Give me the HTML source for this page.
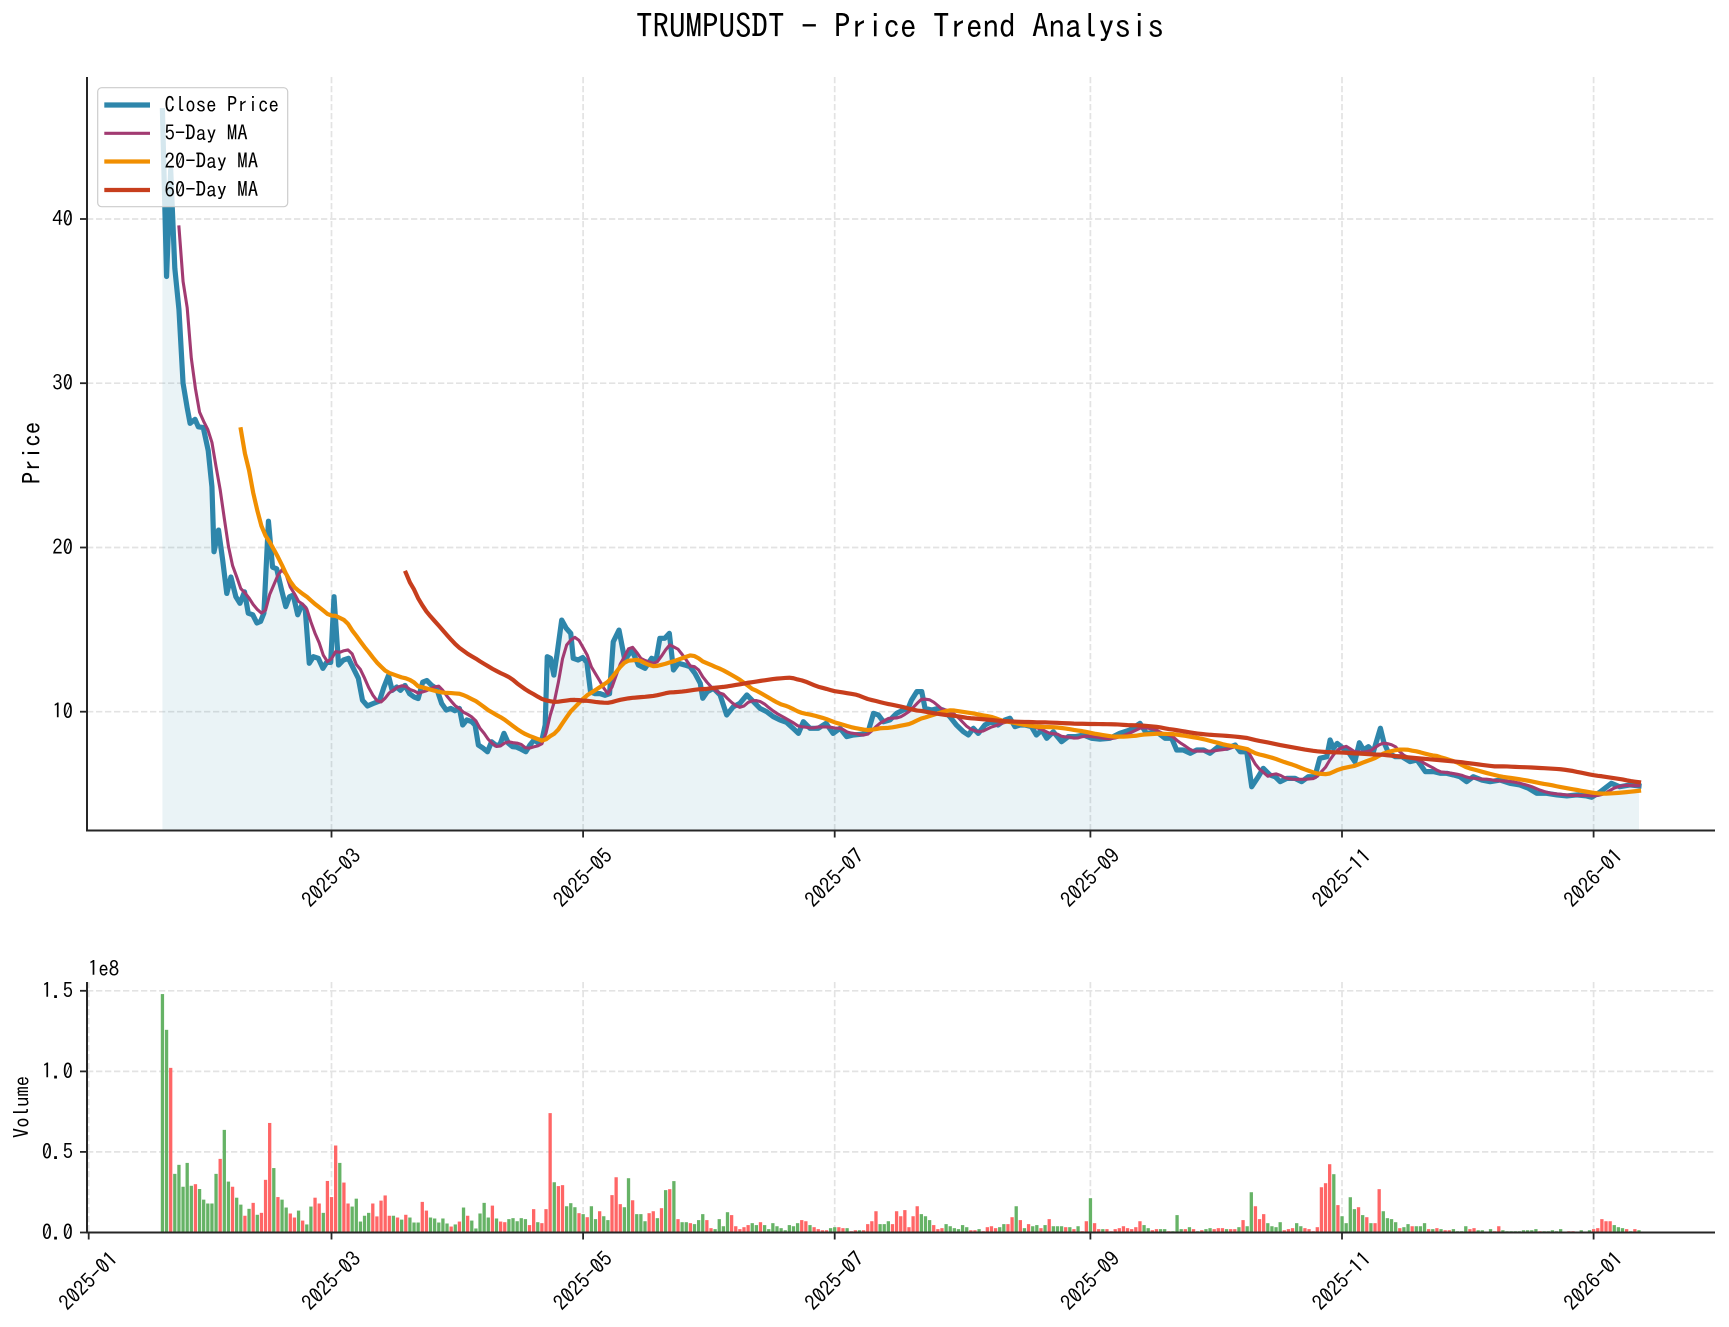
<!DOCTYPE html>
<html><head><meta charset="utf-8">
<style>
html,body{margin:0;padding:0;background:#fff;}
svg{display:block;font-family:"IPAGothic","Liberation Sans","Noto Sans CJK JP",sans-serif;}
</style></head>
<body>
<svg id="c" width="1729" height="1327" viewBox="0 0 1729 1327" xmlns="http://www.w3.org/2000/svg">
<rect width="1729" height="1327" fill="#fff"/>
<defs>
<clipPath id="cp1"><rect x="87" y="77" width="1628" height="753.5"/></clipPath>
<clipPath id="cp2"><rect x="87" y="975" width="1628" height="257.5"/></clipPath>
</defs>

<!-- title -->
<text x="900" y="38" font-size="33" text-anchor="middle" fill="#000">TRUMPUSDT - Price Trend Analysis</text>

<!-- grids -->
<g stroke="#e3e3e3" stroke-width="1.7" stroke-dasharray="6.3 2.7" fill="none">
  <line x1="331.5" y1="77" x2="331.5" y2="830.5"/>
  <line x1="583.1" y1="77" x2="583.1" y2="830.5"/>
  <line x1="834.7" y1="77" x2="834.7" y2="830.5"/>
  <line x1="1090.4" y1="77" x2="1090.4" y2="830.5"/>
  <line x1="1342" y1="77" x2="1342" y2="830.5"/>
  <line x1="1593.6" y1="77" x2="1593.6" y2="830.5"/>
  <line x1="87" y1="711.7" x2="1715" y2="711.7"/>
  <line x1="87" y1="547.5" x2="1715" y2="547.5"/>
  <line x1="87" y1="383.2" x2="1715" y2="383.2"/>
  <line x1="87" y1="219" x2="1715" y2="219"/>

  <line x1="88.7" y1="982" x2="88.7" y2="1232.5"/>
  <line x1="331.5" y1="982" x2="331.5" y2="1232.5"/>
  <line x1="583.1" y1="982" x2="583.1" y2="1232.5"/>
  <line x1="834.7" y1="982" x2="834.7" y2="1232.5"/>
  <line x1="1090.4" y1="982" x2="1090.4" y2="1232.5"/>
  <line x1="1342" y1="982" x2="1342" y2="1232.5"/>
  <line x1="1593.6" y1="982" x2="1593.6" y2="1232.5"/>
  <line x1="87" y1="1151.9" x2="1715" y2="1151.9"/>
  <line x1="87" y1="1071.4" x2="1715" y2="1071.4"/>
  <line x1="87" y1="990.8" x2="1715" y2="990.8"/>
</g>

<g id="series" clip-path="url(#cp1)"></g>
<g id="bars" clip-path="url(#cp2)"></g>

<!-- legend -->
<g>
  <rect x="97.7" y="87.7" width="190" height="119" rx="4" ry="4" fill="#fff" fill-opacity="0.8" stroke="#cccccc" stroke-width="1.2"/>
  <line x1="104.3" y1="105" x2="150" y2="105" stroke="#2E86AB" stroke-width="5.2"/>
  <line x1="104.3" y1="133.3" x2="150" y2="133.3" stroke="#A23B72" stroke-width="3.1"/>
  <line x1="104.3" y1="161.5" x2="150" y2="161.5" stroke="#F18F01" stroke-width="4.2"/>
  <line x1="104.3" y1="190" x2="150" y2="190" stroke="#C73E1D" stroke-width="4.2"/>
  <g font-size="20.8" fill="#000" dominant-baseline="central">
    <text x="164.5" y="105">Close Price</text>
    <text x="164.5" y="133.3">5-Day MA</text>
    <text x="164.5" y="161.5">20-Day MA</text>
    <text x="164.5" y="190">60-Day MA</text>
  </g>
</g>

<!-- spines -->
<g stroke="#262626" stroke-width="2" fill="none">
  <line x1="87" y1="77" x2="87" y2="831.5"/>
  <line x1="86" y1="830.5" x2="1715" y2="830.5"/>
  <line x1="87" y1="982" x2="87" y2="1233.5"/>
  <line x1="86" y1="1232.5" x2="1715" y2="1232.5"/>
</g>
<!-- ticks -->
<g stroke="#262626" stroke-width="1.8">
  <line x1="80" y1="711.7" x2="87" y2="711.7"/>
  <line x1="80" y1="547.5" x2="87" y2="547.5"/>
  <line x1="80" y1="383.2" x2="87" y2="383.2"/>
  <line x1="80" y1="219" x2="87" y2="219"/>
  <line x1="331.5" y1="830.5" x2="331.5" y2="837.5"/>
  <line x1="583.1" y1="830.5" x2="583.1" y2="837.5"/>
  <line x1="834.7" y1="830.5" x2="834.7" y2="837.5"/>
  <line x1="1090.4" y1="830.5" x2="1090.4" y2="837.5"/>
  <line x1="1342" y1="830.5" x2="1342" y2="837.5"/>
  <line x1="1593.6" y1="830.5" x2="1593.6" y2="837.5"/>

  <line x1="80" y1="1232.5" x2="87" y2="1232.5"/>
  <line x1="80" y1="1151.9" x2="87" y2="1151.9"/>
  <line x1="80" y1="1071.4" x2="87" y2="1071.4"/>
  <line x1="80" y1="990.8" x2="87" y2="990.8"/>
  <line x1="88.7" y1="1232.5" x2="88.7" y2="1239.5"/>
  <line x1="331.5" y1="1232.5" x2="331.5" y2="1239.5"/>
  <line x1="583.1" y1="1232.5" x2="583.1" y2="1239.5"/>
  <line x1="834.7" y1="1232.5" x2="834.7" y2="1239.5"/>
  <line x1="1090.4" y1="1232.5" x2="1090.4" y2="1239.5"/>
  <line x1="1342" y1="1232.5" x2="1342" y2="1239.5"/>
  <line x1="1593.6" y1="1232.5" x2="1593.6" y2="1239.5"/>
</g>

<!-- tick labels -->
<g font-size="20.8" fill="#000">
  <g text-anchor="end" dominant-baseline="central">
    <text x="73" y="711.7">10</text>
    <text x="73" y="547.5">20</text>
    <text x="73" y="383.2">30</text>
    <text x="73" y="219">40</text>
    <text x="73" y="1232.5">0.0</text>
    <text x="73" y="1151.9">0.5</text>
    <text x="73" y="1071.4">1.0</text>
    <text x="73" y="990.8">1.5</text>
  </g>
  <g text-anchor="middle" dominant-baseline="central">
    <text transform="translate(331.5,878) rotate(-45)">2025-03</text>
    <text transform="translate(583.1,878) rotate(-45)">2025-05</text>
    <text transform="translate(834.7,878) rotate(-45)">2025-07</text>
    <text transform="translate(1090.4,878) rotate(-45)">2025-09</text>
    <text transform="translate(1342,878) rotate(-45)">2025-11</text>
    <text transform="translate(1593.6,878) rotate(-45)">2026-01</text>

    <text transform="translate(88.7,1281) rotate(-45)">2025-01</text>
    <text transform="translate(331.5,1281) rotate(-45)">2025-03</text>
    <text transform="translate(583.1,1281) rotate(-45)">2025-05</text>
    <text transform="translate(834.7,1281) rotate(-45)">2025-07</text>
    <text transform="translate(1090.4,1281) rotate(-45)">2025-09</text>
    <text transform="translate(1342,1281) rotate(-45)">2025-11</text>
    <text transform="translate(1593.6,1281) rotate(-45)">2026-01</text>
  </g>
  <text x="88" y="976">1e8</text>
</g>

<!-- axis labels -->
<text transform="translate(32,453) rotate(-90)" font-size="25" text-anchor="middle" dominant-baseline="central" fill="#000">Price</text>
<text transform="translate(22,1107) rotate(-90)" font-size="20.8" text-anchor="middle" dominant-baseline="central" fill="#000">Volume</text>
</svg>

<script>
(function(){
var NS="http://www.w3.org/2000/svg";
var K=[[0,46.6],[1,36.5],[2,43.0],[3,37.0],[4,34.5],[5,30.0],[6,28.5],[6.7,27.56],[7.9,27.8],[8.7,27.35],[9.9,27.3],[11.1,25.9],[12,23.7],[12.5,19.74],[13.6,21.06],[14.6,19.24],[15.6,17.2],[16.6,18.2],[17.8,17.0],[18.8,16.6],[19.9,17.3],[20.8,16.0],[21.9,15.9],[22.9,15.4],[23.8,15.5],[24.6,16.0],[25.7,21.6],[26.7,18.8],[27.7,18.7],[28.9,17.4],[29.9,16.4],[30.8,17.0],[31.7,17.1],[32.8,15.9],[33.8,16.5],[34.6,16.3],[35.6,12.95],[36.6,13.35],[37.8,13.25],[38.9,12.64],[39.8,13.0],[40.8,13.0],[41.6,17.0],[42.7,12.84],[43.9,13.15],[45.1,13.25],[46.3,12.64],[47.5,12.03],[48.5,10.7],[49.7,10.35],[51.1,10.5],[52.6,10.65],[53.7,11.5],[54.8,12.2],[55.7,11.3],[56.8,11.5],[57.7,11.3],[58.8,11.6],[59.9,11.1],[61,10.9],[62,10.8],[63.1,11.8],[64.1,11.9],[65.3,11.6],[66.5,11.4],[67.7,10.5],[68.8,10.1],[69.9,10.2],[70.9,10.06],[72,10.2],[72.8,9.19],[73.8,9.5],[75,9.39],[75.8,9.19],[76.6,7.97],[77.8,7.77],[78.8,7.56],[79.8,8.17],[80.8,7.97],[81.8,7.97],[82.8,8.68],[83.9,8.07],[84.9,7.87],[85.8,7.85],[87,7.71],[88.1,7.56],[89.1,7.97],[90.1,8.28],[91.1,8.11],[92.1,8.38],[92.8,9.19],[93.3,13.35],[94.1,13.25],[94.9,12.23],[95.7,13.55],[96.8,15.58],[97.9,15.08],[99,14.77],[99.6,13.25],[100.8,13.15],[101.9,13.3],[102.9,13.0],[103.8,11.2],[104.9,11.1],[106.1,11.1],[107.3,11.0],[108.4,11.1],[109.3,14.26],[110.7,14.97],[112.1,13.15],[113.8,13.76],[115.4,12.84],[117,12.64],[118.6,13.25],[119.7,13.15],[120.6,14.47],[121.8,14.47],[122.9,14.77],[123.9,12.54],[125.1,12.95],[126.7,12.84],[127.9,12.74],[129.1,12.34],[130.4,11.73],[131,10.82],[132.1,11.22],[133.6,11.42],[135.2,11.02],[136.8,9.8],[138.4,10.3],[140,10.51],[141.7,11.02],[143.3,10.61],[144.9,10.2],[146.5,10.0],[148.1,9.7],[149.7,9.5],[151.3,9.35],[152.9,8.99],[154.2,8.68],[155.4,9.39],[157,8.99],[159,8.99],[160.9,9.29],[162.6,8.68],[164.3,8.99],[165.9,8.48],[167.5,8.58],[169.9,8.64],[171.1,8.78],[172.4,9.9],[173.6,9.8],[174.8,9.39],[176.4,9.5],[178,9.9],[179.6,10.1],[180.8,10.2],[181.6,10.7],[182.9,11.22],[184.1,11.22],[184.9,10.2],[186.5,10.1],[188.1,10.2],[189.3,10.1],[190.9,9.7],[192.5,9.19],[194.2,8.78],[195.4,8.58],[196.6,8.99],[197.8,8.68],[199.4,9.19],[201,9.39],[202.6,9.19],[204.3,9.5],[205.5,9.6],[206.7,9.09],[207.9,9.19],[209.1,9.19],[210.7,9.09],[211.9,8.58],[213.2,8.89],[214.4,8.38],[216,8.78],[218,8.17],[219.6,8.48],[221.3,8.48],[223.3,8.58],[225.3,8.38],[227.3,8.33],[229.7,8.38],[232.1,8.68],[234.6,8.89],[237,9.29],[238.6,8.68],[241,8.78],[243.1,8.38],[244.7,8.38],[245.9,7.67],[247.5,7.67],[249.2,7.47],[250.8,7.67],[252.4,7.67],[254,7.47],[256,7.87],[258.1,7.77],[260.1,7.97],[261.3,7.56],[262.9,7.56],[264.1,5.43],[265.7,6.04],[266.9,6.55],[268.5,6.15],[269.8,6.04],[271,5.74],[272.6,5.94],[274.6,5.94],[276.2,5.74],[277.8,6.04],[279.4,6.04],[280.6,7.16],[282.3,7.26],[283.1,8.28],[283.9,7.77],[284.8,8.07],[286.3,7.77],[287.5,7.56],[289.1,6.96],[290.2,8.11],[291.2,7.67],[292.4,7.87],[293.6,7.56],[295.3,8.99],[296.1,8.17],[297.3,7.47],[298.9,7.26],[300.5,7.26],[302.5,6.96],[304.2,7.06],[306.2,6.35],[308.2,6.35],[309.8,6.25],[311.4,6.25],[313,6.15],[314.6,6.04],[316.2,5.74],[317.8,6.04],[319.9,5.84],[321.9,5.74],[324.3,5.84],[326.7,5.64],[329.1,5.54],[331.2,5.34],[333.2,5.03],[335.6,5.03],[338.1,4.93],[340.5,4.87],[342.9,4.93],[345.3,4.87],[346.5,4.79],[348.5,5.1],[351.3,5.64],[353.3,5.43],[355.8,5.54],[358,5.48]];
var V=[1.48,1.258,1.022,0.364,0.42,0.284,0.432,0.29,0.30,0.27,
0.204,0.18,0.18,0.364,0.457,0.637,0.316,0.284,0.216,0.173,
0.104,0.147,0.184,0.11,0.122,0.327,0.68,0.40,0.22,0.204,
0.155,0.118,0.093,0.136,0.074,0.05,0.161,0.216,0.18,0.122,
0.32,0.22,0.54,0.432,0.31,0.18,0.161,0.21,0.068,0.104,
0.122,0.18,0.10,0.198,0.23,0.104,0.104,0.093,0.08,0.11,
0.093,0.062,0.062,0.19,0.136,0.093,0.087,0.062,0.087,0.056,
0.037,0.05,0.068,0.155,0.104,0.074,0.025,0.118,0.184,0.093,
0.167,0.087,0.068,0.064,0.083,0.089,0.07,0.089,0.083,0.046,
0.145,0.064,0.058,0.145,0.741,0.312,0.288,0.294,0.163,0.182,
0.157,0.12,0.114,0.095,0.163,0.083,0.132,0.101,0.077,0.232,
0.343,0.176,0.157,0.337,0.2,0.114,0.114,0.07,0.12,0.132,
0.089,0.151,0.263,0.269,0.319,0.083,0.064,0.064,0.058,0.052,
0.077,0.114,0.077,0.027,0.021,0.083,0.039,0.126,0.108,0.039,
0.021,0.033,0.046,0.058,0.046,0.064,0.046,0.021,0.058,0.039,
0.027,0.014,0.046,0.039,0.058,0.077,0.07,0.046,0.033,0.021,
0.014,0.014,0.027,0.033,0.033,0.027,0.027,0.008,0.014,0.014,
0.014,0.052,0.07,0.132,0.052,0.052,0.07,0.052,0.132,0.101,
0.139,0.033,0.101,0.163,0.114,0.101,0.077,0.046,0.021,0.027,
0.052,0.039,0.027,0.021,0.046,0.033,0.014,0.014,0.021,0.008,
0.033,0.039,0.027,0.033,0.052,0.052,0.095,0.163,0.077,0.027,
0.052,0.039,0.046,0.027,0.046,0.083,0.039,0.039,0.039,0.033,
0.033,0.021,0.039,0.008,0.07,0.213,0.058,0.021,0.021,0.021,
0.008,0.021,0.027,0.039,0.027,0.021,0.033,0.07,0.046,0.027,
0.014,0.021,0.021,0.021,0.008,0.008,0.108,0.021,0.021,0.033,
0.021,0.008,0.014,0.021,0.027,0.021,0.027,0.027,0.021,0.021,
0.021,0.033,0.077,0.039,0.25,0.163,0.083,0.114,0.058,0.039,
0.033,0.064,0.014,0.021,0.027,0.058,0.039,0.027,0.021,0.008,
0.033,0.281,0.306,0.424,0.362,0.17,0.101,0.058,0.219,0.145,
0.157,0.108,0.095,0.058,0.058,0.269,0.132,0.089,0.083,0.064,
0.027,0.033,0.052,0.039,0.039,0.039,0.058,0.021,0.021,0.027,
0.021,0.014,0.014,0.021,0.008,0.008,0.039,0.021,0.027,0.014,
0.014,0.004,0.021,0.008,0.039,0.014,0.008,0.008,0.008,0.008,
0.014,0.014,0.014,0.021,0.008,0.008,0.008,0.014,0.008,0.021,
0.003,0.008,0.008,0.003,0.014,0.004,0.014,0.021,0.027,0.083,
0.07,0.07,0.046,0.033,0.027,0.021,0.008,0.021,0.014];
var C="GGRGGGGGRG"+"GGGGRGGRGG"+"RGRGRRRGRG"+"GRRGRGGRRG"+"RRRGRRGGGG"+"GRRRRRGRGR"+"GGGRRGGGGG"+"RGRGRGGGGG"+"RGRRGGGGGR"+"RGRRRGRRGG"+"GRGRGGRGGR"+"RRGGRGGGRR"+"GRGRGRGGRG"+"GGRRGGGGRR"+"RRRGGRGGGG"+"GGGGGRRGRR"+"RRGGRRGRRG"+"RRRRGGGRRR"+"RRRRGGGRRR"+"GGGGGGRRGR"+"RRRGGRRGRG"+"RGGRGRGGGR"+"GRGRRGRRGR"+"RRRRRRRRGG"+"RRGGRGGGRG"+"RGRGGRRRGR"+"RGRGGRRRGG"+"GGRRRGGRRR"+"RRRRGRGGGG"+"RGRGRRGGGG"+"RGGRGGGRGR"+"GRRGGGGRRG"+"GGGRRGGGGG"+"GGGGRGGGGG"+"GRRGGGGRRR"+"RRGGGRGRG";
var N=359;
function X(i){return 162.44+4.1245*i;}
function Y(v){return 711.7-(v-10)*16.423;}
function interp(t){
  for(var j=0;j<K.length-1;j++){
    if(t<=K[j+1][0]){var a=K[j],b=K[j+1];var f=(t-a[0])/(b[0]-a[0]);f=Math.max(0,Math.min(1,f));return a[1]+(b[1]-a[1])*f;}
  }
  return K[K.length-1][1];
}
var D=[];for(var i=0;i<N;i++)D.push(interp(i));
function el(tag,attrs,parent){var e=document.createElementNS(NS,tag);for(var k in attrs)e.setAttribute(k,attrs[k]);parent.appendChild(e);return e;}
var g=document.getElementById('series');
var pts=K.map(function(p){return X(p[0]).toFixed(2)+","+Y(p[1]).toFixed(2);});
var closeD="M"+pts.join(" L");
el('path',{d:closeD+" L"+X(358).toFixed(2)+",845 L"+X(0).toFixed(2)+",845 Z",fill:"#2E86AB","fill-opacity":"0.1",stroke:"none"},g);
el('path',{d:closeD,fill:"none",stroke:"#2E86AB","stroke-width":"5.2","stroke-linejoin":"round","stroke-linecap":"square"},g);
function ma(w,color,sw){
  var p=[];
  for(var i=w-1;i<N;i++){var s=0;for(var j=i-w+1;j<=i;j++)s+=D[j];p.push(X(i).toFixed(2)+","+Y(s/w).toFixed(2));}
  el('path',{d:"M"+p.join(" L"),fill:"none",stroke:color,"stroke-width":sw,"stroke-linejoin":"round","stroke-linecap":"square"},g);
}
ma(5,"#A23B72","3.1");
ma(20,"#F18F01","4.2");
ma(60,"#C73E1D","4.2");
var gb=document.getElementById('bars');
for(var i=0;i<N;i++){
  var h=V[i]*161.1;
  el('rect',{x:(X(i)-1.65).toFixed(2),y:(1232.5-h).toFixed(2),width:"3.3",height:h.toFixed(2),fill:(C.charAt(i)==='R'?"#ff6666":"#66b366")},gb);
}
})();
</script>
</body></html>
